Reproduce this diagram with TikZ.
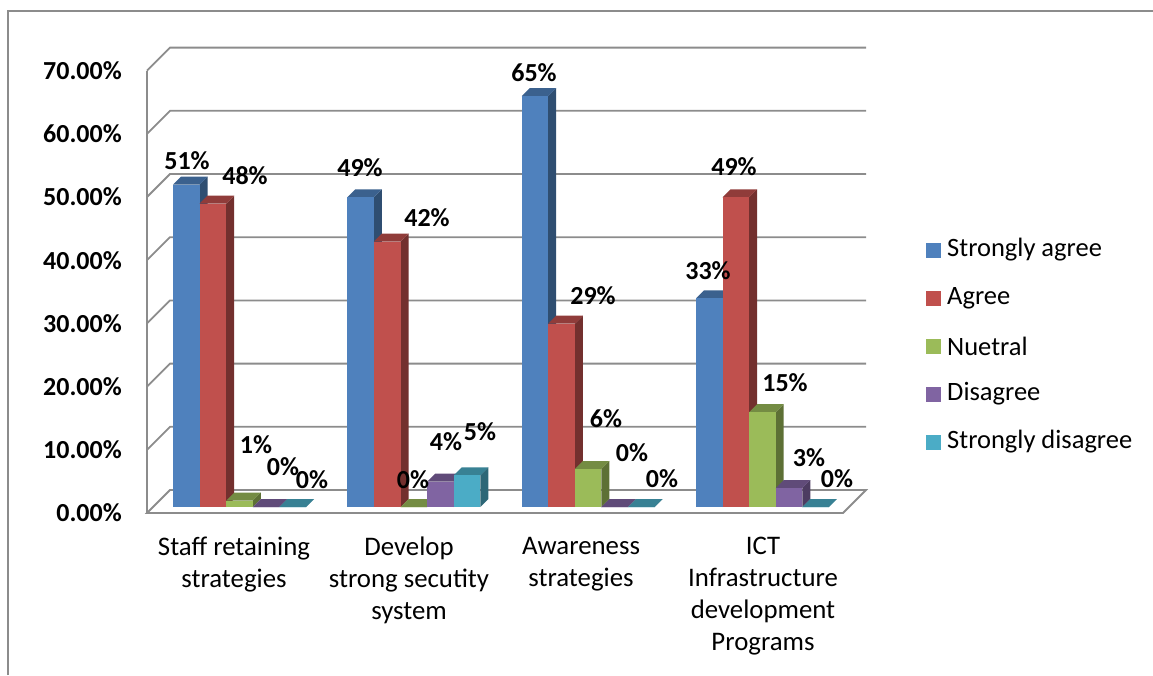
\documentclass[tikz,border=0pt]{standalone}
\usepackage{fontspec}
\setmainfont{Carlito}
\definecolor{cA}{HTML}{4F81BD}
\definecolor{cB}{HTML}{C0504D}
\definecolor{cC}{HTML}{9BBB59}
\definecolor{cD}{HTML}{8064A2}
\definecolor{cE}{HTML}{4BACC6}
\definecolor{gridc}{HTML}{8C8C8C}
\newcommand{\mybar}[3]{%
  \pgfmathsetmacro{\hh}{6.32*#2}%
  \fill[#3!60!black] (#1+26.6,507) -- ++(8,-8) -- ++(0,-\hh) -- ++(-8,8) -- cycle;
  \fill[#3!75!black] (#1,507-\hh) -- ++(26.6,0) -- ++(8,-8) -- ++(-26.6,0) -- cycle;
  \fill[#3] (#1,507) rectangle ++(26.6,-\hh);
}
\tikzset{
  val/.style={font=\fontsize{26}{30}\selectfont\bfseries, inner sep=0pt},
  ytick/.style={font=\fontsize{26}{30}\selectfont\bfseries, inner sep=0pt, anchor=east},
  cat/.style={font=\fontsize{26.8}{32}\selectfont, inner sep=0pt, align=center, anchor=north},
  leg/.style={font=\fontsize{26.5}{30}\selectfont, inner sep=0pt, anchor=west},
  grid/.style={draw=gridc, line width=1.8pt},
}
\begin{document}
\begin{tikzpicture}[x=1pt,y=-1pt]
\useasboundingbox (0,0) rectangle (1153,675);
% outer frame
\draw[gridc, line width=2pt] (8,675) -- (8,10.5) -- (1153,10.5);
% gridlines
\foreach \v in {10,20,...,70}{
  \pgfmathsetmacro{\yy}{513-6.32*\v}
  \draw[grid] (147,\yy) -- (170,\yy-23) -- (866,\yy-23);
}
% floor and axis
\draw[grid] (147,513) -- (843,513) -- (866,490) -- (170,490) -- cycle;
\draw[grid] (147,513) -- (147,70.6);
% bars
\foreach \vals [count=\i from 0] in {{51,48,1,0,0},{49,42,0,4,5},{65,29,6,0,0},{33,49,15,3,0}}{
  \foreach \v [count=\j from 0] in \vals {
    \pgfmathsetmacro{\xx}{173+174.3*\i+26.6*\j}
    \ifcase\j \def\cc{cA}\or \def\cc{cB}\or \def\cc{cC}\or \def\cc{cD}\or \def\cc{cE}\fi
    \mybar{\xx}{\v}{\cc}
  }
}
% y labels
\foreach \v [count=\k] in {0,10,...,70}{
  \pgfmathsetmacro{\yy}{513-6.32*\v}
  \node[ytick] (y\k) at (122,\yy) {\v.00\%};
}
% value labels
\node[val] (l11) at (187,161) {51\%};
\node[val] (l12) at (245,176) {48\%};
\node[val] (l13) at (256,445) {1\%};
\node[val] (l14) at (283,467) {0\%};
\node[val] (l15) at (312,480) {0\%};
\node[val] (l21) at (360,168) {49\%};
\node[val] (l22) at (427,218) {42\%};
\node[val] (l23) at (413,480) {0\%};
\node[val] (l24) at (446,442) {4\%};
\node[val] (l25) at (480,432) {5\%};
\node[val] (l31) at (534,73) {65\%};
\node[val] (l32) at (593,296) {29\%};
\node[val] (l33) at (606,419) {6\%};
\node[val] (l34) at (632,453) {0\%};
\node[val] (l35) at (662,479) {0\%};
\node[val] (l41) at (708,271) {33\%};
\node[val] (l42) at (734,167) {49\%};
\node[val] (l43) at (785,383) {15\%};
\node[val] (l44) at (809,458) {3\%};
\node[val] (l45) at (837,479) {0\%};
% category labels
\node[cat] (c1) at (234,537) {Staff retaining\\strategies};
\node[cat] (c2) at (409,537) {Develop\\strong secutity\\system};
\node[cat] (c3) at (581,537) {Awareness\\strategies};
\node[cat] (c4) at (763,537) {ICT\\Infrastructure\\development\\Programs};
% legend
\foreach \c/\t/\yy [count=\k] in {cA/Strongly agree/250,cB/Agree/298,cC/Nuetral/346,cD/Disagree/394,cE/Strongly disagree/442}{
  \fill[\c] (926,\yy-7.5) rectangle ++(15,15);
  \node[leg] (g\k) at (947,\yy) {\t};
}
\end{tikzpicture}
\end{document}
